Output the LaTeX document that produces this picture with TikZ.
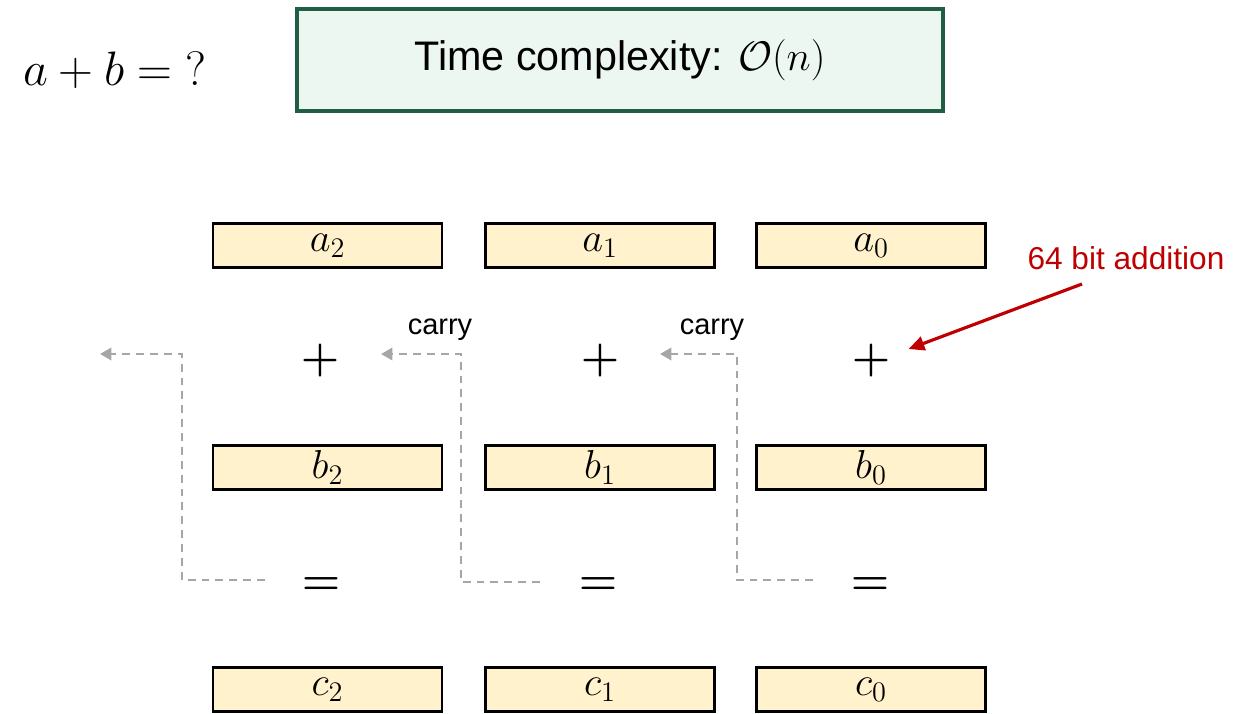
\RequirePackage{fix-cm}
\documentclass[tikz,border=0pt]{standalone}
\usepackage{amsmath}
\usepackage[no-math]{fontspec}
\newfontfamily\arialfont{Liberation Sans}
\usetikzlibrary{arrows.meta,calc,positioning}

\definecolor{wordfill}{RGB}{255,242,204}
\definecolor{notefill}{RGB}{237,247,241}
\definecolor{notegreen}{RGB}{33,94,68}
\definecolor{carrygray}{RGB}{166,166,166}
\definecolor{hintred}{RGB}{192,0,0}
\newcommand\bigmath{\fontsize{23}{27}\selectfont}

\begin{document}
\begin{tikzpicture}[x=0.02cm,y=-0.02cm,>=Stealth,
    wordbox/.style={draw=black,line width=1.3pt,fill=wordfill,
      minimum width=4.58cm,minimum height=0.88cm,inner sep=0pt,font=\bigmath},
    opsign/.style={inner sep=0pt,font=\fontsize{25}{29}\selectfont},
    carryline/.style={draw=carrygray,line width=1.5pt,
      dash pattern=on 4.5pt off 3.4pt,-{Triangle[length=6.5pt,width=7pt]}},
    carrytext/.style={inner sep=0pt,font=\arialfont\fontsize{16.5}{19}\selectfont}]
  \useasboundingbox (0,0) rectangle (1242,714);

  % header
  \node[inner sep=0pt,font=\fontsize{27.5}{32}\selectfont] (sum) at (115,70) {$a+b=\mathrm{?}$};
  \node[draw=notegreen,line width=2.4pt,fill=notefill,minimum width=12.92cm,
        minimum height=2.04cm,inner sep=0pt,
        font=\arialfont\fontsize{23.5}{27}\selectfont] (cost) at (620,60)
        {Time complexity: $\mathcal{O}(n)$};

  % words and operators
  \foreach \i/\x/\px/\ex in {2/327.5/320/321,1/600/600/598,0/871/871/870} {
    \node[wordbox] (a\i) at (\x,245.5) {$a_\i$};
    \node[wordbox] (b\i) at (\x,467.5) {$b_\i$};
    \node[wordbox] (c\i) at (\x,689.5) {$c_\i$};
    \node[opsign] (p\i) at (\px,361) {$\boldsymbol{+}$};
    \node[opsign] (e\i) at (\ex,586) {$\boldsymbol{=}$};
  }

  % carries
  \foreach \i/\sx/\sy/\cx/\tx in {0/813/580/737/660,1/540/582/461/381,2/265/580/182/100} {
    \coordinate (ks\i) at (\sx,\sy);
    \coordinate (kt\i) at (\tx,354);
    \draw[carryline] (ks\i) -- (\cx,\sy) |- (kt\i);
  }
  \node[carrytext] (carry0) at (712,330) {carry};
  \node[carrytext] (carry1) at (440,330) {carry};

  % note
  \node[inner sep=0pt,text=hintred,font=\arialfont\fontsize{18}{21}\selectfont]
    (note) at (1126,258) {64 bit addition};
  \coordinate (n0) at (1082,284);
  \draw[hintred,line width=1.8pt,-{Triangle[length=9pt,width=8pt]}]
    (n0) -- ($(p0.east)+(18,-12)$);
\end{tikzpicture}
\end{document}
